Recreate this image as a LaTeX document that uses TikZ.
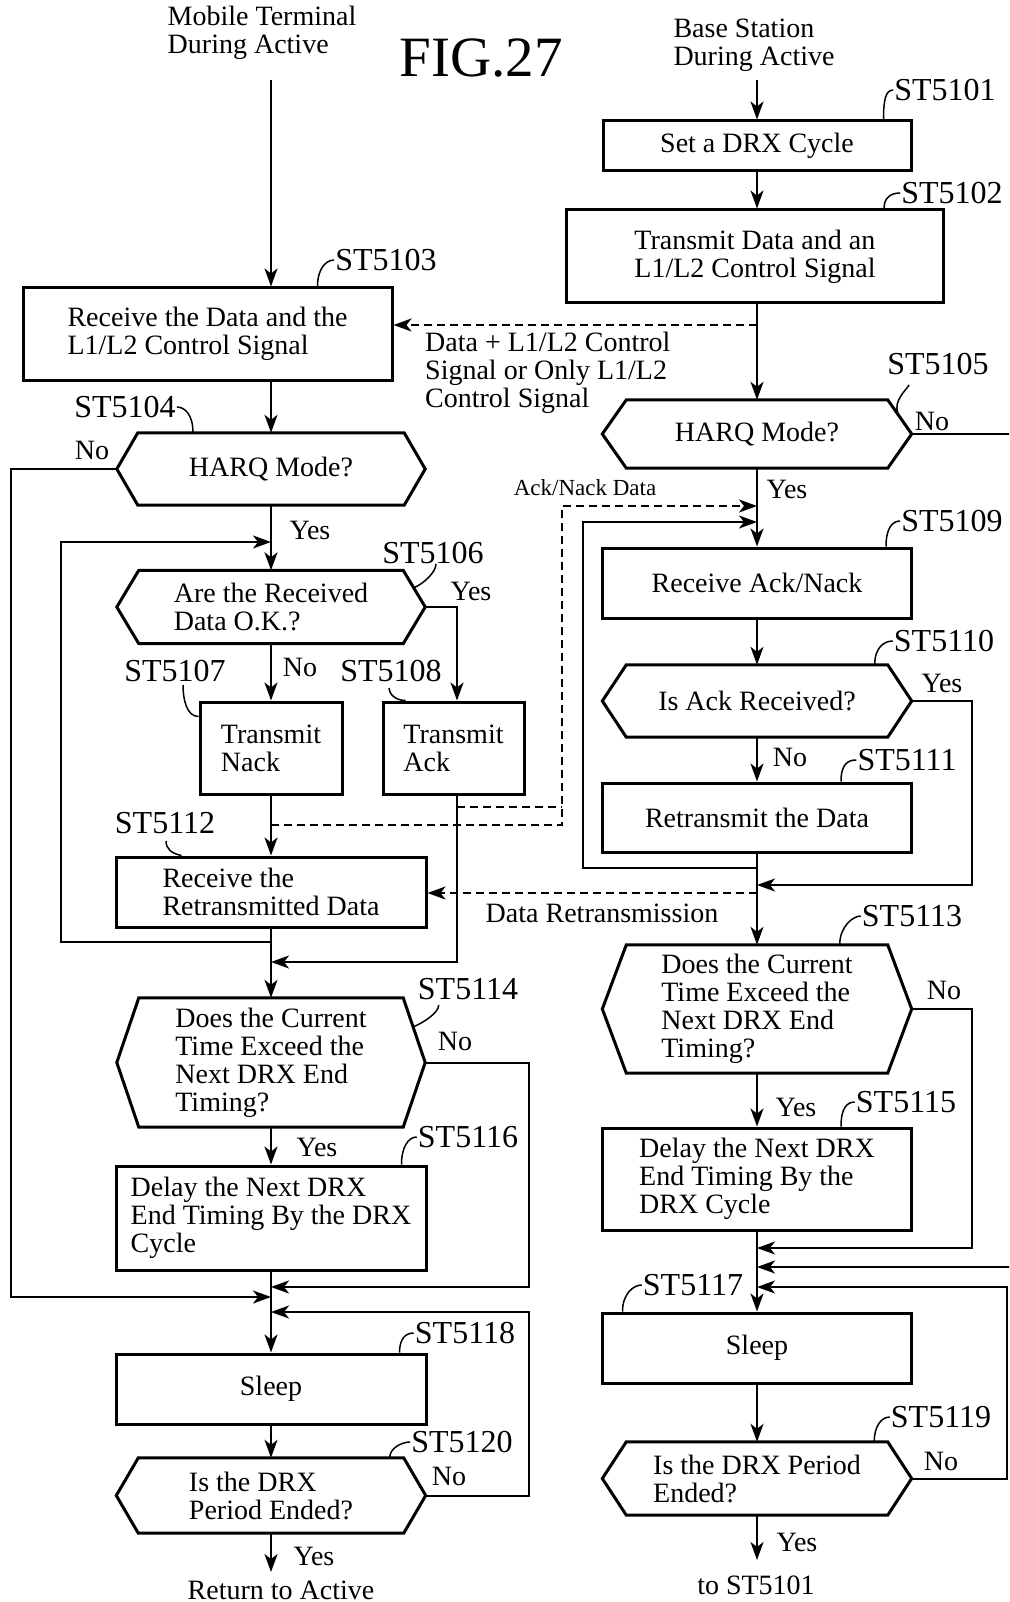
\documentclass[tikz,border=0pt]{standalone}
\usepackage{fontspec}
\setmainfont{Liberation Serif}
\usetikzlibrary{arrows.meta,calc}
\newcommand\fsN{\fontsize{28}{28}\selectfont}
\newcommand\fsL{\fontsize{32}{32}\selectfont}
\newcommand\fsS{\fontsize{23}{23}\selectfont}
\newcommand\fsF{\fontsize{57}{57}\selectfont}
\newcommand\drawhex[2]{\draw[shp] ([xshift=#2]#1.north west) -- ([xshift=-#2]#1.north east) -- (#1.east) -- ([xshift=-#2]#1.south east) -- ([xshift=#2]#1.south west) -- (#1.west) -- cycle;}
\begin{document}
\begin{tikzpicture}[x=1pt,y=-1pt,
  procbox/.style={draw, line width=3pt, align=left, font=\fsN, inner sep=0pt},
  hexn/.style={align=left, font=\fsN, inner sep=0pt},
  txt/.style={font=\fsN, align=left, inner sep=0pt},
  stp/.style={font=\fsL, inner sep=0pt},
  shp/.style={line width=3pt},
  cline/.style={line width=2pt},
  conn/.style={cline, -{Stealth[length=18pt,width=13pt,inset=5pt]}},
  dln/.style={cline, dash pattern=on 8pt off 5pt},
  dconn/.style={dln, -{Stealth[length=18pt,width=13pt,inset=5pt]}},
  hk/.style={line width=1.5pt}]
\useasboundingbox (0,0) rectangle (1009,1602);
\clip (0,0) rectangle (1009,1602);
\fill[white] (0,0) rectangle (1009,1602);

% headers
\node[txt] (hdrL) at (262,33) {Mobile Terminal\\During Active};
\node[font=\fsF, inner sep=0pt] (fig) at (481,58) {FIG.27};
\node[txt] (hdrR) at (754,45) {Base Station\\During Active};
\coordinate (mtop) at (271,80);
\coordinate (btop) at (757,80);
\coordinate (cL) at (271,0);
\coordinate (cR) at (757,0);

% right column
\node[procbox, minimum width=308pt, minimum height=50pt] (b5101) at (757,146) {Set a DRX Cycle};
\node[procbox, minimum width=377pt, minimum height=93pt] (b5102) at (755,256.5) {Transmit Data and an\\L1/L2 Control Signal};
\node[hexn, minimum width=309pt, minimum height=68pt] (h5105) at (757,434) {HARQ Mode?};
\drawhex{h5105}{24pt}
\node[procbox, minimum width=309pt, minimum height=70pt] (b5109) at (757,583) {Receive Ack/Nack};
\node[hexn, minimum width=309pt, minimum height=72pt] (h5110) at (757,701) {Is Ack Received?};
\drawhex{h5110}{24pt}
\node[procbox, minimum width=309pt, minimum height=69pt] (b5111) at (757,817.5) {Retransmit the Data};
\node[hexn, minimum width=309pt, minimum height=128pt] (h5113) at (757,1009) {Does the Current\\Time Exceed the\\Next DRX End\\Timing?};
\drawhex{h5113}{24pt}
\node[procbox, minimum width=309pt, minimum height=102pt] (b5115) at (757,1179) {Delay the Next DRX\\End Timing By the\\DRX Cycle};
\node[procbox, minimum width=309pt, minimum height=70pt] (b5117) at (757,1348) {Sleep};
\node[hexn, minimum width=309pt, minimum height=73pt] (h5119) at (757,1478.5) {Is the DRX Period\\Ended?};
\drawhex{h5119}{24pt}

% left column
\node[procbox, minimum width=369pt, minimum height=92pt] (b5103) at (207.5,334) {Receive the Data and the\\L1/L2 Control Signal};
\node[hexn, minimum width=308pt, minimum height=72pt] (h5104) at (271,469) {HARQ Mode?};
\drawhex{h5104}{21pt}
\node[hexn, minimum width=308pt, minimum height=73pt] (h5106) at (271,607) {Are the Received\\Data O.K.?};
\drawhex{h5106}{22pt}
\node[procbox, minimum width=142pt, minimum height=92pt] (b5107) at (271,748) {Transmit\\Nack};
\node[procbox, minimum width=141pt, minimum height=92pt] (b5108) at (453.5,748) {Transmit\\Ack};
\node[procbox, minimum width=310pt, minimum height=70pt] (b5112) at (271,892) {Receive the\\Retransmitted Data};
\node[hexn, minimum width=308pt, minimum height=129pt] (h5114) at (271,1062.5) {Does the Current\\Time Exceed the\\Next DRX End\\Timing?};
\drawhex{h5114}{22pt}
\node[procbox, minimum width=310pt, minimum height=104pt] (b5116) at (271,1218) {Delay the Next DRX\\End Timing By the DRX\\Cycle};
\node[procbox, minimum width=310pt, minimum height=70pt] (b5118) at (271,1389) {Sleep};
\node[hexn, minimum width=309pt, minimum height=75pt] (h5120) at (271,1495.5) {Is the DRX\\Period Ended?};
\drawhex{h5120}{22pt}

% left connectors
\draw[conn] (mtop) -- (mtop |- b5103.north);
\draw[conn] (cL |- b5103.south) -- (h5104.north);
\draw[conn] (h5104.south) -- (h5106.north);
\coordinate (jL1) at (271,542);
\coordinate (jL2) at (271,942);
\coordinate (xL1) at (61,0);
\draw[conn] (jL2) -- (jL2 -| xL1) |- (jL1);
\coordinate (xL0) at (11,0);
\coordinate (jL5) at (271,1297);
\draw[conn] (h5104.west) -- (h5104.west -| xL0) |- (jL5);
\draw[conn] (h5106.south) -- (b5107.north);
\coordinate (xA) at (457,0);
\draw[conn] (h5106.east) -| (xA |- b5108.north);
\draw[conn] (b5107.south) -- (b5112.north);
\coordinate (jL3) at (271,962);
\draw[conn] (xA |- b5108.south) |- (jL3);
\draw[conn] (b5112.south) -- (h5114.north);
\coordinate (xB) at (529,0);
\coordinate (jL4) at (271,1287);
\draw[conn] (h5114.east) -- (h5114.east -| xB) |- (jL4);
\draw[conn] (h5114.south) -- (b5116.north);
\draw[conn] (b5116.south) -- (b5118.north);
\coordinate (jL6) at (271,1312);
\draw[conn] (h5120.east) -- (h5120.east -| xB) |- (jL6);
\draw[conn] (b5118.south) -- (h5120.north);
\coordinate (endL) at (271,1572);
\draw[conn] (h5120.south) -- (endL);
\node[txt] (ret) at (281,1590) {Return to Active};

% right connectors
\draw[conn] (btop) -- (b5101.north);
\draw[conn] (b5101.south) -- (cR |- b5102.north);
\draw[conn] (cR |- b5102.south) -- (h5105.north);
\coordinate (jR0) at (757,325);
\draw[dconn] (jR0) -- (b5103.east |- jR0);
\coordinate (xR9) at (1016,0);
\coordinate (jR7) at (757,1267);
\draw[conn] (h5105.east) -- (h5105.east -| xR9) |- (jR7);
\draw[conn] (h5105.south) -- (b5109.north);
\coordinate (dA) at (457,807);
\coordinate (dB) at (271,825);
\coordinate (xD) at (562,0);
\coordinate (jR1) at (757,506);
\draw[dln] (dA) -- (dA -| xD);
\draw[dconn] (dB) -- (dB -| xD) |- (jR1);
\coordinate (xR0) at (583,0);
\coordinate (jR2) at (757,868);
\coordinate (jR1b) at (757,522);
\draw[conn] (jR2) -- (jR2 -| xR0) |- (jR1b);
\draw[conn] (b5109.south) -- (h5110.north);
\draw[conn] (h5110.south) -- (b5111.north);
\coordinate (xR1) at (972,0);
\coordinate (jR3) at (757,885);
\draw[conn] (h5110.east) -- (h5110.east -| xR1) |- (jR3);
\draw[conn] (b5111.south) -- (h5113.north);
\coordinate (jR4) at (757,893);
\draw[dconn] (jR4) -- (b5112.east |- jR4);
\draw[conn] (h5113.south) -- (b5115.north);
\coordinate (jR6) at (757,1248);
\draw[conn] (h5113.east) -- (h5113.east -| xR1) |- (jR6);
\draw[conn] (b5115.south) -- (b5117.north);
\coordinate (xR8) at (1007,0);
\coordinate (jR8) at (757,1287);
\draw[conn] (h5119.east) -- (h5119.east -| xR8) |- (jR8);
\draw[conn] (b5117.south) -- (h5119.north);
\coordinate (endR) at (757,1560);
\draw[conn] (h5119.south) -- (endR);
\node[txt] (tost) at (756,1585) {to ST5101};

% signal labels
\node[txt, anchor=west] (sig1) at (425,373) {Data + L1/L2 Control\\Signal or Only L1/L2\\Control Signal};
\node[font=\fsS, inner sep=0pt] (ackl) at (585,488) {Ack/Nack Data};
\node[txt] (drl) at (602,913) {Data Retransmission};

% yes / no
\node[txt] (n5104) at (92,450) {No};
\node[txt] (y5104) at (310,530) {Yes};
\node[txt] (y5106) at (471,591) {Yes};
\node[txt] (n5106) at (300,667) {No};
\node[txt] (n5105) at (932,421) {No};
\node[txt] (y5105) at (787,489) {Yes};
\node[txt] (y5110) at (942,683) {Yes};
\node[txt] (n5110) at (790,757) {No};
\node[txt] (n5113) at (944,990) {No};
\node[txt] (y5113) at (796,1107) {Yes};
\node[txt] (n5114) at (455,1041) {No};
\node[txt] (y5114) at (317,1147) {Yes};
\node[txt] (n5119) at (941,1461) {No};
\node[txt] (y5119) at (797,1542) {Yes};
\node[txt] (n5120) at (449,1476) {No};
\node[txt] (y5120) at (314,1556) {Yes};

% step labels
\node[stp] (s5101) at (945,90) {ST5101};
\node[stp] (s5102) at (952,193) {ST5102};
\node[stp] (s5103) at (386,260) {ST5103};
\node[stp] (s5104) at (125,407) {ST5104};
\node[stp] (s5105) at (938,364) {ST5105};
\node[stp] (s5106) at (433,553) {ST5106};
\node[stp] (s5107) at (175,671) {ST5107};
\node[stp] (s5108) at (391,671) {ST5108};
\node[stp] (s5109) at (952,521) {ST5109};
\node[stp] (s5110) at (944,641) {ST5110};
\node[stp] (s5111) at (907,760) {ST5111};
\node[stp] (s5112) at (165,823) {ST5112};
\node[stp] (s5113) at (912,916) {ST5113};
\node[stp] (s5114) at (468,989) {ST5114};
\node[stp] (s5115) at (906,1102) {ST5115};
\node[stp] (s5116) at (468,1137) {ST5116};
\node[stp] (s5117) at (693,1285) {ST5117};
\node[stp] (s5118) at (465,1333) {ST5118};
\node[stp] (s5119) at (941,1417) {ST5119};
\node[stp] (s5120) at (462,1442) {ST5120};

% hooks
\draw[hk] ($(b5101.north east)+(-29,0)$) .. controls +(0,-18) and +(-8,0) .. ($(s5101.west)+(-1,0)$);
\draw[hk] ($(b5102.north east)+(-61,0)$) .. controls +(0,-12) and +(-8,0) .. ($(s5102.west)+(-1,0)$);
\draw[hk] ($(b5103.north east)+(-76,0)$) .. controls +(0,-18) and +(-8,0) .. ($(s5103.west)+(-1,0)$);
\draw[hk] ($(h5104.north)+(-78,0)$) .. controls +(0,-18) and +(8,0) .. ($(s5104.east)+(1,0)$);
\draw[hk] ($(h5105.north east)+(-14,13)$) .. controls +(-4,-12) and +(-4,6) .. ($(s5105.south west)+(22,10)$);
\draw[hk] ($(h5106.north east)+(-11.5,17.5)$) .. controls +(10,-4) and +(0,8) .. ($(s5106.south)+(3,0)$);
\draw[hk] ($(b5107.north west)+(0,16)$) .. controls +(-12,0) and +(0,14) .. ($(s5107.south)+(8,3)$);
\draw[hk] ($(b5108.north west)+(24,0)$) .. controls +(-10,0) and +(0,6) .. ($(s5108.south)+(-2,6)$);
\draw[hk] ($(b5109.north east)+(-27,0)$) .. controls +(0,-18) and +(-8,0) .. ($(s5109.west)+(-1,0)$);
\draw[hk] ($(h5110.north east)+(-37,0)$) .. controls +(0,-18) and +(-8,0) .. ($(s5110.west)+(-1,0)$);
\draw[hk] ($(b5111.north east)+(-72,0)$) .. controls +(0,-18) and +(-8,0) .. ($(s5111.west)+(-1,0)$);
\draw[hk] ($(b5112.north west)+(67,0)$) .. controls +(-10,-2) and +(0,8) .. ($(s5112.south)+(1,7)$);
\draw[hk] ($(h5113.north east)+(-72,0)$) .. controls +(0,-18) and +(-8,0) .. ($(s5113.west)+(-1,0)$);
\draw[hk] ($(h5114.north east)+(-12,29)$) .. controls +(10,-4) and +(0,8) .. ($(s5114.south west)+(21,5)$);
\draw[hk] ($(b5115.north east)+(-72,0)$) .. controls +(0,-18) and +(-8,0) .. ($(s5115.west)+(-1,0)$);
\draw[hk] ($(b5116.north east)+(-26,0)$) .. controls +(0,-18) and +(-8,0) .. ($(s5116.west)+(-1,0)$);
\draw[hk] ($(b5117.north west)+(21.5,0)$) .. controls +(0,-18) and +(-8,0) .. ($(s5117.west)+(-1,0)$);
\draw[hk] ($(b5118.north east)+(-28,0)$) .. controls +(0,-14) and +(-8,0) .. ($(s5118.west)+(-1,0)$);
\draw[hk] ($(h5119.north east)+(-37.5,0)$) .. controls +(0,-16) and +(-8,0) .. ($(s5119.west)+(-1,0)$);
\draw[hk] ($(h5120.north east)+(-36,0)$) .. controls +(0,-10) and +(-8,0) .. ($(s5120.west)+(-1,0)$);
\end{tikzpicture}
\end{document}
